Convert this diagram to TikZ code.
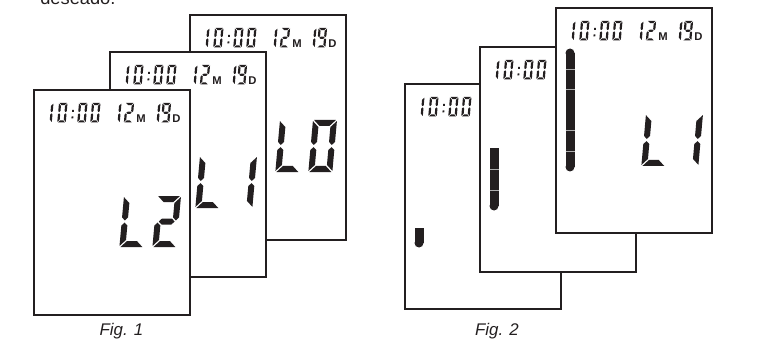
\documentclass[tikz,border=0pt]{standalone}
\usepackage{fontspec}
\setmainfont{Liberation Sans}
\usetikzlibrary{positioning,calc}

\definecolor{lcdink}{RGB}{35,31,32}
\definecolor{lcdgap}{RGB}{175,175,175}

% one seven-segment digit: x, y (top left), width, height, thickness, segments
\newcommand{\segdigit}[6]{%
  \begin{scope}[shift={(#1,#2)}, xslant=0.09]
    \pgfmathsetmacro\dgW{#3}
    \pgfmathsetmacro\dgH{#4}
    \pgfmathsetmacro\dgT{#5}
    \pgfmathsetmacro\dgG{0.12*#5+0.35}
    \pgfmathsetmacro\dgM{#4/2}
    \pgfmathsetmacro\dgS{#5/2}
    \foreach \s in {#6} {\csname lcd\s\endcsname}
  \end{scope}}

\newcommand{\lcdA}{\fill[seg] (\dgG,0) -- (\dgW-\dgG,0) -- (\dgW-\dgT-\dgG,\dgT) -- (\dgT+\dgG,\dgT) -- cycle;}
\newcommand{\lcdD}{\fill[seg] (\dgG,\dgH) -- (\dgW-\dgG,\dgH) -- (\dgW-\dgT-\dgG,\dgH-\dgT) -- (\dgT+\dgG,\dgH-\dgT) -- cycle;}
\newcommand{\lcdF}{\fill[seg] (0,\dgG) -- (\dgT,\dgT+\dgG) -- (\dgT,\dgM-\dgS-\dgG) -- (\dgS,\dgM-\dgG) -- (0,\dgM-\dgS-\dgG) -- cycle;}
\newcommand{\lcdE}{\fill[seg] (0,\dgH-\dgG) -- (\dgT,\dgH-\dgT-\dgG) -- (\dgT,\dgM+\dgS+\dgG) -- (\dgS,\dgM+\dgG) -- (0,\dgM+\dgS+\dgG) -- cycle;}
\newcommand{\lcdB}{\fill[seg] (\dgW,\dgG) -- (\dgW-\dgT,\dgT+\dgG) -- (\dgW-\dgT,\dgM-\dgS-\dgG) -- (\dgW-\dgS,\dgM-\dgG) -- (\dgW,\dgM-\dgS-\dgG) -- cycle;}
\newcommand{\lcdC}{\fill[seg] (\dgW,\dgH-\dgG) -- (\dgW-\dgT,\dgH-\dgT-\dgG) -- (\dgW-\dgT,\dgM+\dgS+\dgG) -- (\dgW-\dgS,\dgM+\dgG) -- (\dgW,\dgM+\dgS+\dgG) -- cycle;}
\newcommand{\lcdG}{\fill[seg] (\dgS+\dgG,\dgM) -- (\dgT+\dgG,\dgM-\dgS) -- (\dgW-\dgT-\dgG,\dgM-\dgS) -- (\dgW-\dgS-\dgG,\dgM) -- (\dgW-\dgT-\dgG,\dgM+\dgS) -- (\dgT+\dgG,\dgM+\dgS) -- cycle;}

% header: time
\newcommand{\clocktime}{%
  \segdigit{11}{13}{8.5}{19.5}{2.2}{B,C}
  \segdigit{25}{13}{8.5}{19.5}{2.2}{A,B,C,D,E,F}
  \begin{scope}[shift={(39.7,13)}, xslant=0.09]
    \fill[seg] (-0.9,7) rectangle (0.9,8.8);
    \fill[seg] (-0.9,13.5) rectangle (0.9,15.3);
  \end{scope}
  \segdigit{45}{13}{8.5}{19.5}{2.2}{A,B,C,D,E,F}
  \segdigit{58}{13}{8.5}{19.5}{2.2}{A,B,C,D,E,F}}

% header: month and day
\newcommand{\clockdate}{%
  \segdigit{79}{13}{8.5}{19.5}{2.2}{B,C}
  \segdigit{91.6}{13}{8.5}{19.5}{2.2}{A,B,G,E,D}
  \node[unitletter] (mon) at (107,32.5) {M};
  \segdigit{118}{13}{8.5}{19.5}{2.2}{B,C}
  \segdigit{128.6}{13}{8.5}{19.5}{2.2}{A,B,C,D,F,G}
  \node[unitletter] (day) at (142.5,32.5) {D};}

\begin{document}
\begin{tikzpicture}[
    x=0.025cm, y=-0.025cm,
    panel/.style={rectangle, draw=lcdink, fill=white, line width=1.3pt,
                  minimum width=3.9cm, minimum height=5.625cm,
                  inner sep=0pt, outer sep=0pt, anchor=north west},
    seg/.style={fill=lcdink},
    unitletter/.style={font=\fontsize{8}{8}\selectfont\bfseries, text=lcdink,
                       inner sep=0pt, anchor=base},
    divider/.style={draw=lcdgap, line width=0.6pt},
    caption/.style={font=\fontsize{12}{14}\selectfont\itshape, text=lcdink,
                    inner sep=0pt, anchor=base}
]
\useasboundingbox (0,0) rectangle (768,347);
\node[font=\fontsize{13}{15}\selectfont, text=lcdink, inner sep=0pt, anchor=base west]
    (prevline) at (40,4.5) {deseado.};

% Fig. 1
\node[panel] (f1back) at (190,15) {};
\begin{scope}[shift={(f1back.north west)}]
  \clocktime
  \clockdate
  \segdigit{90}{105}{24}{52}{6}{F,E,D}
  \segdigit{123}{105}{24}{52}{6}{A,B,C,D,E,F}
\end{scope}
\node[panel] (f1mid) at (110,52) {};
\begin{scope}[shift={(f1mid.north west)}]
  \clocktime
  \clockdate
  \segdigit{90}{104}{24}{52}{6}{F,E,D}
  \segdigit{123}{104}{24}{52}{6}{B,C}
\end{scope}
\node[panel] (f1front) at (34,90) {};
\begin{scope}[shift={(f1front.north west)}]
  \clocktime
  \clockdate
  \segdigit{90}{106}{24}{51}{6}{F,E,D}
  \segdigit{123}{106}{24}{51}{6}{A,B,G,E,D}
\end{scope}
\node[caption] (fig1) at (121.5,335) {Fig. 1};

% Fig. 2
\node[panel] (f2low) at (405,84) {};
\begin{scope}[shift={(f2low.north west)}]
  \clocktime
  \fill[seg] (9.5,144) rectangle (18.5,159);
  \fill[seg] (14,159) circle[radius=4.5];
\end{scope}
\node[panel] (f2mid) at (480,47) {};
\begin{scope}[shift={(f2mid.north west)}]
  \clocktime
  \fill[seg] (9.5,101) rectangle (18.5,159);
  \fill[seg] (14,159) circle[radius=4.5];
  \foreach \y in {122,143}
    \draw[divider] (9.5,\y) -- (18.5,\y);
\end{scope}
\node[panel] (f2top) at (556,8) {};
\begin{scope}[shift={(f2top.north west)}]
  \clocktime
  \clockdate
  \fill[seg] (9.5,45) rectangle (18.5,159);
  \fill[seg] (14,45) circle[radius=4.5];
  \fill[seg] (14,159) circle[radius=4.5];
  \foreach \y in {61,81.5,122.5,143}
    \draw[divider] (9.5,\y) -- (18.5,\y);
  \segdigit{90}{106}{24}{52}{6}{F,E,D}
  \segdigit{123}{106}{24}{52}{6}{B,C}
\end{scope}
\node[caption] (fig2) at (497,335) {Fig. 2};
\end{tikzpicture}
\end{document}
